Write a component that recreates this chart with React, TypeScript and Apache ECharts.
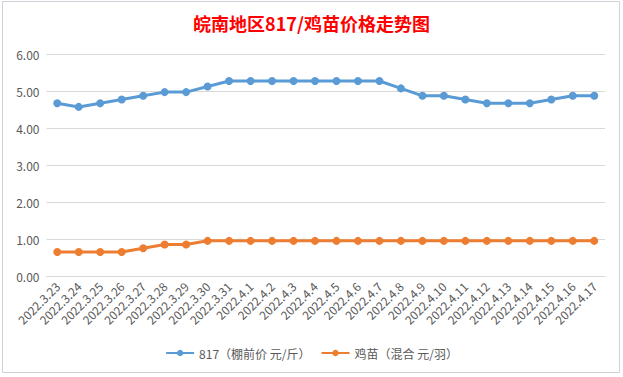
import React, { useEffect, useRef } from "react";
import * as echarts from "echarts";

const categories = [
  "2022.3.23", "2022.3.24", "2022.3.25", "2022.3.26", "2022.3.27", "2022.3.28",
  "2022.3.29", "2022.3.30", "2022.3.31", "2022.4.1", "2022.4.2", "2022.4.3",
  "2022.4.4", "2022.4.5", "2022.4.6", "2022.4.7", "2022.4.8", "2022.4.9",
  "2022.4.10", "2022.4.11", "2022.4.12", "2022.4.13", "2022.4.14", "2022.4.15",
  "2022.4.16", "2022.4.17",
];

const price817 = [
  4.67, 4.57, 4.67, 4.77, 4.87, 4.97, 4.97, 5.12, 5.27, 5.27, 5.27, 5.27, 5.27,
  5.27, 5.27, 5.27, 5.07, 4.87, 4.87, 4.77, 4.67, 4.67, 4.67, 4.77, 4.87, 4.87,
];

const chickPrice = [
  0.65, 0.65, 0.65, 0.65, 0.75, 0.85, 0.85, 0.95, 0.95, 0.95, 0.95, 0.95, 0.95,
  0.95, 0.95, 0.95, 0.95, 0.95, 0.95, 0.95, 0.95, 0.95, 0.95, 0.95, 0.95, 0.95,
];

const seriesNames = ["817（棚前价 元/斤）", "鸡苗（混合 元/羽）"];
const titleText = "皖南地区817/鸡苗价格走势图";

const FONT = "'Microsoft YaHei', 'Noto Sans CJK SC', sans-serif";

export default function App() {
  const ref = useRef<HTMLDivElement>(null);
  useEffect(() => {
    if (!ref.current) return;
    const chart = echarts.init(ref.current, undefined, { renderer: "svg" });
    chart.setOption({
      animation: false,
      backgroundColor: "#ffffff",
      textStyle: { fontFamily: FONT },
      title: {
        text: titleText,
        left: "center",
        top: 9,
        textStyle: { color: "#ff0000", fontSize: 18, fontWeight: "bold", fontFamily: FONT },
      },
      graphic: [
        {
          type: "rect",
          shape: { x: 2.5, y: 1.5, width: 617, height: 371 },
          style: { fill: "none", stroke: "#d0d0d8", lineWidth: 1 },
          silent: true,
          z: -1,
        },
      ],
      legend: {
        bottom: 13,
        left: "center",
        itemWidth: 28,
        itemHeight: 8,
        itemGap: 10,
        textStyle: { color: "#595959", fontSize: 12, fontFamily: FONT },
        data: seriesNames,
      },
      grid: { left: 46.5, right: 18, top: 54, bottom: 101, containLabel: false },
      xAxis: {
        type: "category",
        data: categories,
        boundaryGap: true,
        axisLine: { show: true, lineStyle: { color: "#d9d9d9", width: 1 } },
        axisTick: { show: false },
        axisLabel: {
          rotate: 45,
          interval: 0,
          margin: 8,
          color: "#595959",
          fontSize: 12,
          fontFamily: FONT,
        },
      },
      yAxis: {
        type: "value",
        min: 0,
        max: 6,
        interval: 1,
        axisLine: { show: false },
        axisTick: { show: false },
        splitLine: { lineStyle: { color: "#d9d9d9", width: 1 } },
        axisLabel: {
          color: "#595959",
          fontSize: 12,
          margin: 7,
          fontFamily: FONT,
          formatter: (v: number) => v.toFixed(2),
        },
      },
      series: [
        {
          name: seriesNames[0],
          type: "line",
          data: price817,
          symbol: "circle",
          symbolSize: 8,
          itemStyle: { color: "#5b9bd5" },
          lineStyle: { color: "#5b9bd5", width: 3 },
        },
        {
          name: seriesNames[1],
          type: "line",
          data: chickPrice,
          symbol: "circle",
          symbolSize: 8,
          itemStyle: { color: "#ed7d31" },
          lineStyle: { color: "#ed7d31", width: 3 },
        },
      ],
    });
    return () => chart.dispose();
  }, []);
  return (
    <div
      ref={ref}
      style={{ position: "fixed", left: 0, top: 0, width: 623, height: 377, background: "#fff" }}
    />
  );
}
